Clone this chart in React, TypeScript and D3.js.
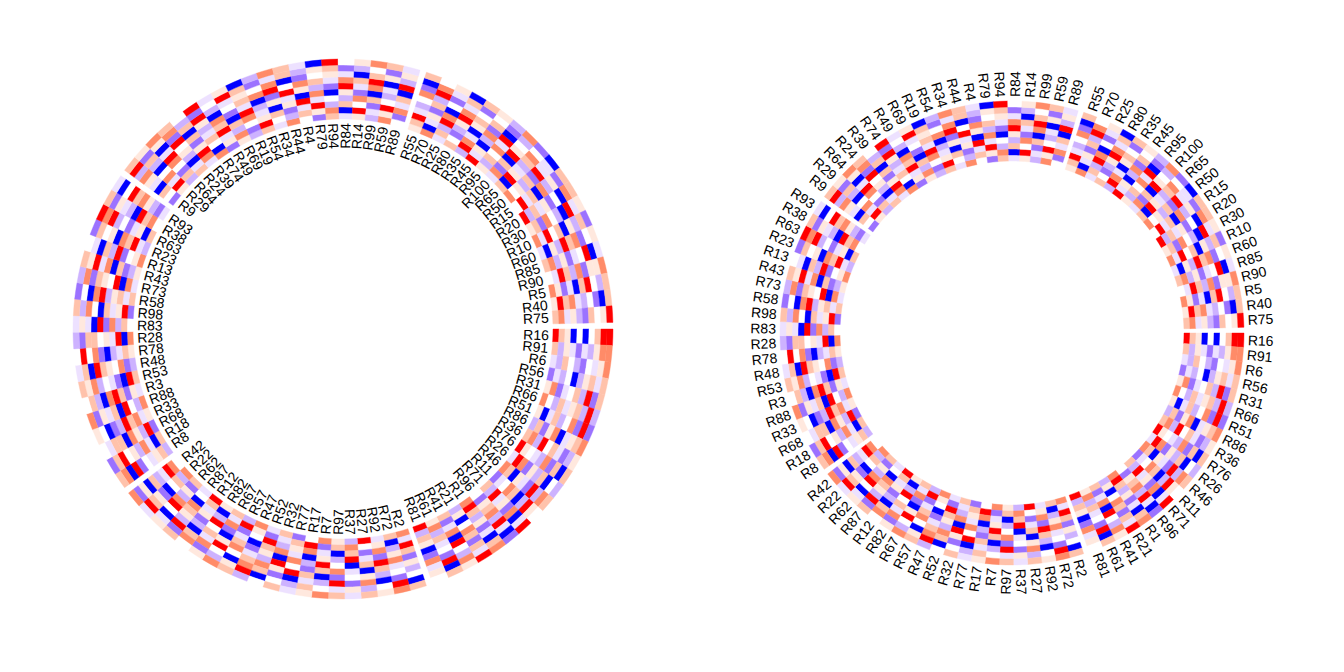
import React from "react";
import * as d3 from "d3";

const sectors: number[][] = [
  [16, 91, 6, 56, 31, 66, 51, 86, 36, 76, 26, 46, 11, 71, 96, 1, 21, 41, 61, 81],
  [2, 72, 92, 27, 37, 97, 7, 17, 77, 32, 52, 47, 57, 67, 82, 12, 87, 62, 22, 42],
  [8, 18, 68, 33, 88, 3, 53, 48, 78, 28, 83, 98, 58, 73, 43, 13, 23, 63, 38, 93],
  [9, 29, 64, 24, 39, 74, 49, 69, 19, 54, 34, 44, 4, 79, 94, 84, 14, 99, 59, 89],
  [55, 70, 25, 80, 35, 45, 95, 100, 65, 50, 15, 20, 30, 10, 60, 85, 90, 5, 40, 75],
];

// levels 0..8 (low -> high), columns inner -> outer
const values: string[] = [
  "8650404688", "6253132577", "3264214357", "1324025636", "5713462816",
  "7426356282", "5036247181", "2615703567", "6728463125", "8543271606",
  "3871526042", "7605318276", "1347602854", "6283517038", "4156728301",
  "7862513067", "2504761638", "6137084275", "5726341806", "8265017354",
  "7386152406", "6025734187", "3571862045", "8413605726", "2768034153",
  "5602471836", "7135860247", "4870216365", "1653748023", "6327085146",
  "3186527604", "7540136782", "2813674056", "6371058427", "5028463715",
  "8635120674", "3407652816", "6152784035", "7264015683", "4783260517",
  "2653418076", "6037254861", "1825706634", "5376821045", "7248063517",
  "3516870264", "6801342756", "2174568063", "5632017484", "7083546612",
  "4627180353", "1853604726", "6365287041", "3708456172", "5216073856",
  "7541826034", "2386705461", "6053142878", "4768023516", "3125768403",
  "1460357286", "5837402615", "2614783057", "6302548176", "3785160624",
  "7046325818", "1538670243", "5726014385", "2147836560", "6853207412",
  "3460518737", "7215384066", "4638057123", "1583726450", "6724013568",
  "3062587314", "5847136025", "2316078647", "7584230516", "4173608253",
  "5683247106", "7035162874", "3628704135", "6412587360", "2873056416",
  "8350271645", "5264738012", "3716085427", "6085326741", "7452618330",
  "4836072516", "8263514076", "5617420835", "7384605261", "3052867145",
  "6725134803", "4386271557", "7513068426", "5867324106", "6735216458",
];

const levelValues = [-2, -1.2, -0.65, -0.25, 0, 0.25, 0.65, 1.2, 2];

const color = d3.scaleLinear<string>().domain([-2, 0, 2]).range(["#0000ff", "#ffffff", "#ff0000"]).interpolate(d3.interpolateLab).clamp(true);

const W = 1344, H = 672;
const GAP = 1.4;
const NCOL = 10;

function Circle({ cx, cy, rOut, rIn, outside }: { cx: number; cy: number; rOut: number; rIn: number; outside: boolean }) {
  const secDeg = (360 - 5 * GAP) / 5;
  const cellDeg = secDeg / 20;
  const rScale = d3.scaleLinear().domain([0, NCOL]).range([rIn, rOut]);
  const arc = d3.arc();
  const cells: React.ReactNode[] = [];
  const labels: React.ReactNode[] = [];
  sectors.forEach((sec, s) => {
    sec.forEach((rowName, i) => {
      const idx = s * 20 + i;
      const a0 = s * (secDeg + GAP) + i * cellDeg;
      const a1 = a0 + cellDeg;
      const row = values[idx];
      for (let c = 0; c < NCOL; c++) {
        const v = levelValues[+row[c]];
        const d = arc({
          innerRadius: rScale(c),
          outerRadius: rScale(c + 1),
          startAngle: ((a0 + 90) * Math.PI) / 180,
          endAngle: ((a1 + 90) * Math.PI) / 180,
        } as any) as string;
        cells.push(<path key={`${s}-${i}-${c}`} d={d} fill={color(v)} stroke={color(v)} strokeWidth={0.4} />);
      }
      const mid = (a0 + a1) / 2;
      const norm = ((mid % 360) + 360) % 360;
      const leftHalf = norm > 90 && norm < 270;
      const r = outside ? rOut + 4 : rIn - 4;
      const rad = (mid * Math.PI) / 180;
      const x = cx + r * Math.cos(rad);
      const y = cy + r * Math.sin(rad);
      const rot = leftHalf ? mid + 180 : mid;
      let anchor: string;
      if (outside) anchor = leftHalf ? "end" : "start";
      else anchor = leftHalf ? "start" : "end";
      labels.push(
        <text key={`l${idx}`} x={x} y={y} transform={`rotate(${rot},${x},${y})`} textAnchor={anchor} dominantBaseline="central" fontSize={14} fontFamily="Liberation Sans, Arial, sans-serif" fill="#000">
          R{rowName}
        </text>
      );
    });
  });
  return (
    <g transform={`translate(${cx},${cy})`}>
      {cells}
      <g transform={`translate(${-cx},${-cy})`}>{labels}</g>
    </g>
  );
}

export default function App() {
  return (
    <svg width={W} height={H} style={{ position: "absolute", left: 0, top: 0, background: "#fff" }}>
      <Circle cx={343} cy={329} rOut={270} rIn={210} outside={false} />
      <Circle cx={1012} cy={333} rOut={232} rIn={172} outside={true} />
    </svg>
  );
}
